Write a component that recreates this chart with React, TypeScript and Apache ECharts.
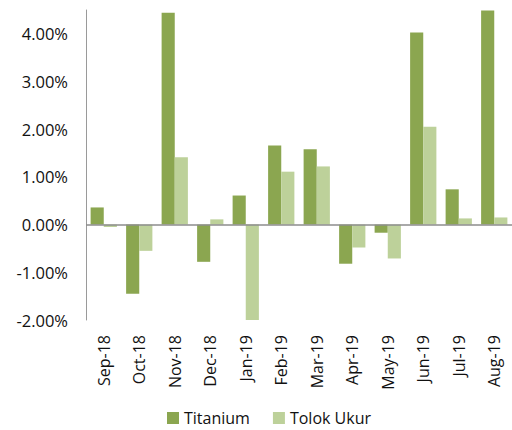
import React, { useEffect, useRef } from "react";
import * as echarts from "echarts";

const categories = ["Sep-18", "Oct-18", "Nov-18", "Dec-18", "Jan-19", "Feb-19", "Mar-19", "Apr-19", "May-19", "Jun-19", "Jul-19", "Aug-19"];
const titanium = [0.36, -1.45, 4.44, -0.78, 0.61, 1.66, 1.58, -0.82, -0.17, 4.03, 0.74, 4.49];
const tolokUkur = [-0.05, -0.55, 1.41, 0.11, -2.05, 1.11, 1.22, -0.48, -0.71, 2.05, 0.13, 0.15];
const yMin = -2;
const yMax = 4.5;
const yInterval = 1;

const FONT = "'Open Sans', 'Noto Sans', sans-serif";

export default function App() {
  const ref = useRef<HTMLDivElement>(null);
  useEffect(() => {
    document.body.style.margin = "0";
    const chart = echarts.init(ref.current!, null, { renderer: "svg" });
    chart.setOption({
      animation: false,
      backgroundColor: "#ffffff",
      grid: { left: 86, top: 10, bottom: 110, right: -8 },
      legend: {
        left: 167,
        top: 410,
        padding: 0,
        itemWidth: 12,
        itemHeight: 12,
        itemGap: 23,
        icon: "rect",
        textStyle: { fontFamily: FONT, fontSize: 16, lineHeight: 15, color: "#111111" },
        data: ["Titanium", "Tolok Ukur"],
      },
      xAxis: {
        type: "category",
        data: categories,
        axisLine: { show: false, onZero: false },
        axisTick: { show: false },
        axisLabel: {
          rotate: 90,
          margin: 15,
          fontFamily: FONT,
          fontSize: 16,
          color: "#111111",
        },
      },
      yAxis: {
        type: "value",
        min: yMin,
        max: yMax,
        interval: yInterval,
        splitLine: { show: false },
        axisTick: { show: false },
        axisLine: { show: true, lineStyle: { color: "#9a9a9a", width: 1 } },
        axisLabel: {
          showMaxLabel: false,
          margin: 18,
          fontFamily: FONT,
          fontSize: 16.5,
          color: "#111111",
          formatter: (v: number) => v.toFixed(2) + "%",
        },
      },
      series: [
        {
          name: "Titanium",
          type: "bar",
          data: titanium,
          barGap: "0%",
          barCategoryGap: "26%",
          itemStyle: { color: "#8ba650" },
          markLine: {
            silent: true,
            symbol: "none",
            label: { show: false },
            lineStyle: { color: "#8c8c8c", width: 1.5, type: "solid" },
            data: [{ yAxis: 0 }],
          },
        },
        {
          name: "Tolok Ukur",
          type: "bar",
          data: tolokUkur,
          itemStyle: { color: "#bdd19a" },
        },
      ],
    });
    return () => chart.dispose();
  }, []);
  return <div ref={ref} style={{ width: 512, height: 430 }} />;
}
